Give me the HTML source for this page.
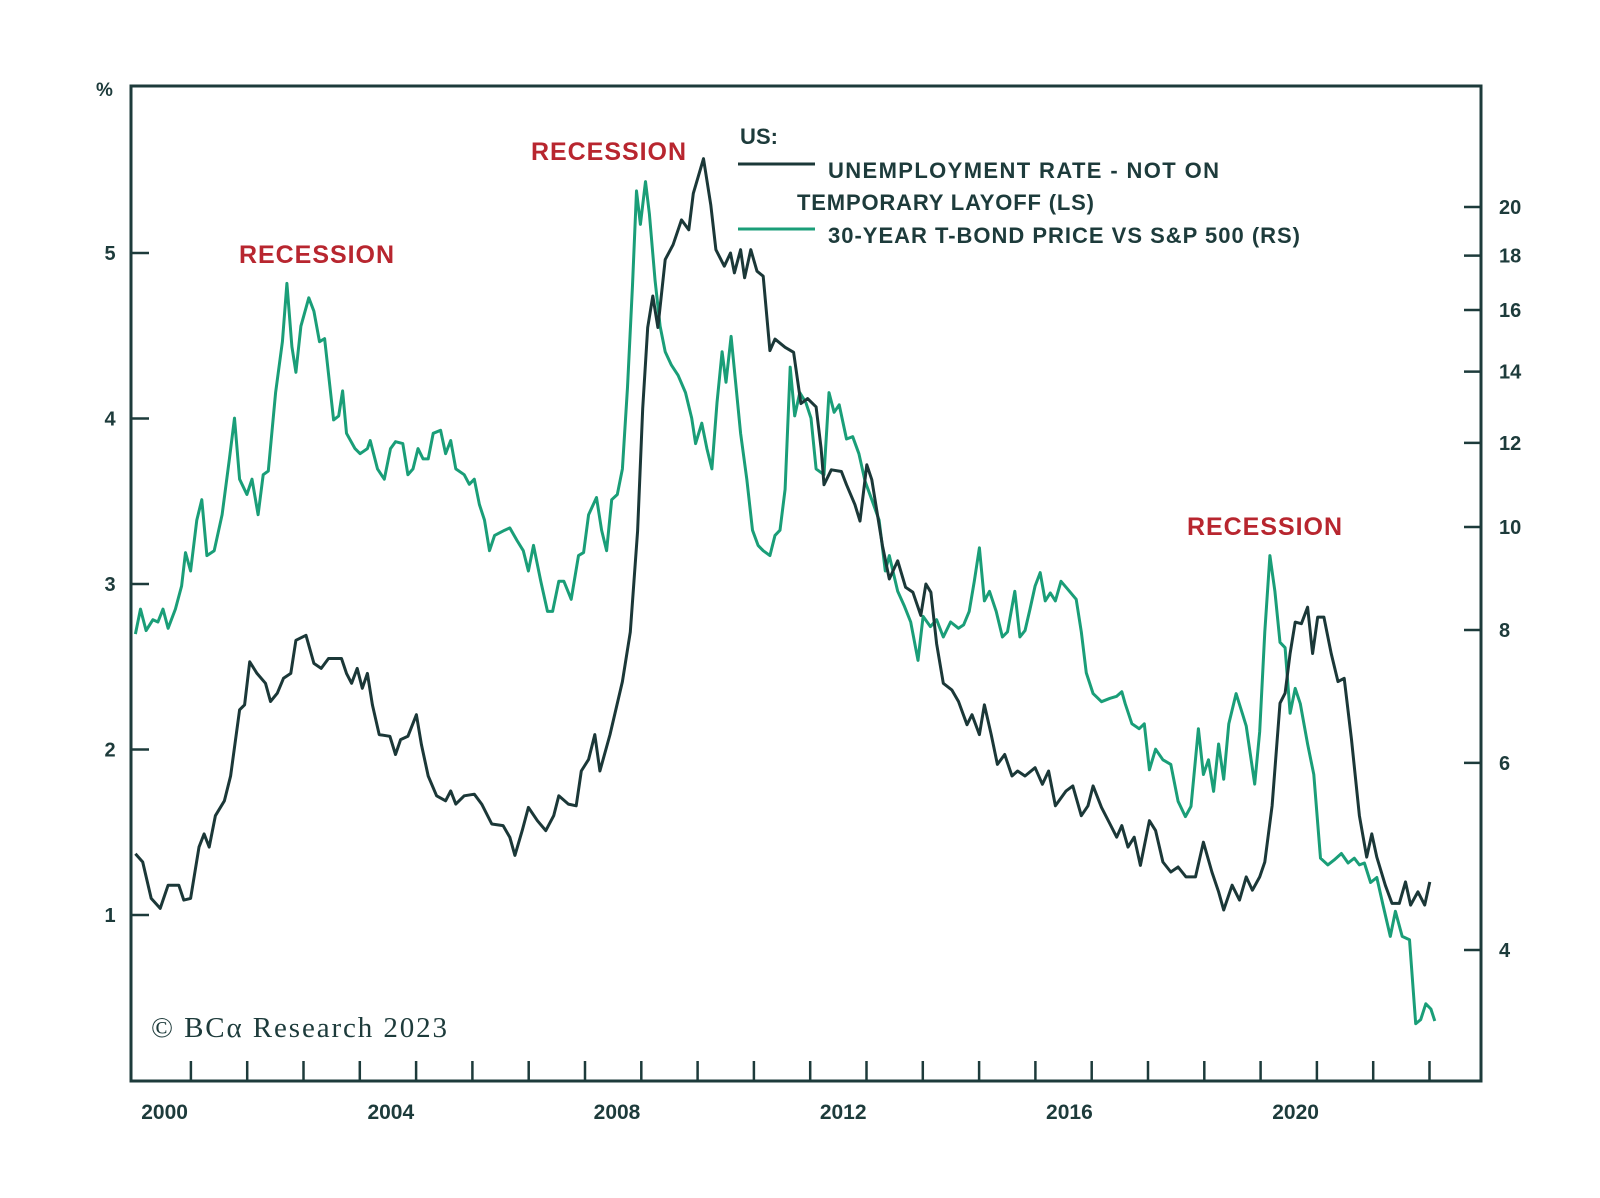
<!DOCTYPE html>
<html><head><meta charset="utf-8"><style>
html,body{margin:0;padding:0;background:#fff;}
svg{display:block;}
text{font-family:"Liberation Sans",sans-serif;}
</style></head><body>
<svg id="chart" width="1600" height="1198" viewBox="0 0 1600 1198" xmlns="http://www.w3.org/2000/svg">
<rect width="1600" height="1198" fill="#fff"/>
<g id="axes"></g>
<g id="series"></g>
<text x="239" y="263" font-size="25" fill="#b8262f" font-weight="bold" textLength="155">RECESSION</text>
<text x="531" y="160" font-size="25" fill="#b8262f" font-weight="bold" textLength="155">RECESSION</text>
<text x="1187" y="535" font-size="25" fill="#b8262f" font-weight="bold" textLength="155">RECESSION</text>
<g fill="#1d3b3b" font-size="22" font-weight="bold">
<text x="740" y="144" textLength="38">US:</text>
<line x1="738" y1="164" x2="815" y2="164" stroke="#1b3838" stroke-width="3"/>
<text x="828" y="178" textLength="391">UNEMPLOYMENT RATE - NOT ON</text>
<text x="797" y="210" textLength="297">TEMPORARY LAYOFF (LS)</text>
<line x1="738" y1="229" x2="815" y2="229" stroke="#1a9e78" stroke-width="3"/>
<text x="828" y="243" textLength="472">30-YEAR T-BOND PRICE VS S&amp;P 500 (RS)</text>
</g>
<text x="151" y="1037" style="font-family:'Liberation Serif',serif" font-size="29" fill="#1d3b3b" textLength="296">© BCα Research 2023</text>
</svg>
<script>
const unempDates=[0.05,0.18,0.33,0.49,0.63,0.82,0.91,1.03,1.18,1.27,1.36,1.47,1.63,1.74,1.90,1.99,2.08,2.21,2.36,2.45,2.57,2.68,2.81,2.90,3.08,3.22,3.35,3.48,3.71,3.80,3.89,3.99,4.08,4.17,4.26,4.38,4.57,4.67,4.76,4.89,5.04,5.13,5.25,5.40,5.56,5.65,5.74,5.89,6.07,6.20,6.38,6.58,6.70,6.79,6.92,7.03,7.19,7.34,7.48,7.57,7.74,7.88,7.97,8.10,8.21,8.30,8.48,8.70,8.84,8.97,9.06,9.15,9.24,9.33,9.46,9.60,9.75,9.88,9.96,10.14,10.27,10.36,10.51,10.62,10.69,10.80,10.87,10.98,11.09,11.20,11.32,11.41,11.59,11.74,11.87,11.99,12.14,12.23,12.28,12.41,12.59,12.68,12.83,12.92,13.04,13.13,13.32,13.44,13.59,13.73,13.86,14.00,14.09,14.18,14.28,14.40,14.55,14.67,14.82,14.91,15.04,15.13,15.25,15.36,15.49,15.62,15.72,15.85,16.03,16.16,16.27,16.39,16.58,16.70,16.85,16.97,17.06,17.21,17.36,17.48,17.57,17.68,17.79,17.90,18.06,18.17,18.30,18.44,18.57,18.71,18.88,19.02,19.17,19.29,19.38,19.53,19.66,19.78,19.89,20.02,20.11,20.24,20.38,20.47,20.56,20.65,20.76,20.87,20.96,21.05,21.16,21.29,21.41,21.52,21.65,21.79,21.92,22.01,22.10,22.25,22.37,22.50,22.61,22.70,22.83,22.95,23.04];
const unempValues=[1.37,1.32,1.10,1.04,1.18,1.18,1.09,1.10,1.41,1.49,1.41,1.60,1.69,1.84,2.24,2.27,2.53,2.46,2.40,2.29,2.34,2.43,2.46,2.66,2.69,2.52,2.49,2.55,2.55,2.46,2.40,2.49,2.37,2.46,2.27,2.09,2.08,1.97,2.06,2.08,2.21,2.03,1.84,1.72,1.69,1.75,1.67,1.72,1.73,1.67,1.55,1.54,1.47,1.36,1.51,1.65,1.57,1.51,1.60,1.72,1.67,1.66,1.87,1.94,2.09,1.87,2.09,2.41,2.71,3.32,4.06,4.55,4.74,4.55,4.96,5.05,5.20,5.14,5.36,5.57,5.29,5.02,4.92,5.00,4.88,5.02,4.85,5.02,4.89,4.86,4.41,4.48,4.43,4.40,4.09,4.12,4.07,3.82,3.60,3.69,3.68,3.60,3.48,3.38,3.72,3.63,3.23,3.03,3.14,2.98,2.95,2.81,3.00,2.95,2.64,2.40,2.36,2.29,2.15,2.21,2.09,2.27,2.09,1.91,1.97,1.84,1.87,1.84,1.89,1.79,1.87,1.66,1.75,1.78,1.60,1.66,1.78,1.65,1.55,1.47,1.54,1.41,1.47,1.30,1.57,1.51,1.32,1.26,1.29,1.23,1.23,1.44,1.26,1.14,1.03,1.18,1.09,1.23,1.15,1.23,1.32,1.66,2.28,2.34,2.58,2.77,2.76,2.86,2.58,2.80,2.80,2.58,2.41,2.43,2.06,1.60,1.35,1.49,1.35,1.18,1.07,1.07,1.20,1.06,1.14,1.06,1.20];
const bondDates=[0.05,0.14,0.24,0.36,0.45,0.54,0.63,0.76,0.87,0.94,1.03,1.14,1.23,1.32,1.45,1.59,1.72,1.81,1.90,2.03,2.12,2.23,2.32,2.41,2.54,2.66,2.74,2.83,2.90,2.99,3.13,3.22,3.32,3.41,3.57,3.66,3.73,3.80,3.95,4.04,4.17,4.22,4.35,4.47,4.58,4.67,4.80,4.89,4.98,5.07,5.16,5.25,5.34,5.47,5.56,5.65,5.74,5.89,5.98,6.07,6.16,6.25,6.34,6.43,6.61,6.70,6.83,6.94,7.03,7.12,7.25,7.37,7.46,7.57,7.66,7.79,7.92,8.01,8.10,8.24,8.33,8.42,8.51,8.61,8.70,8.79,8.88,8.95,9.02,9.11,9.18,9.28,9.37,9.46,9.57,9.69,9.82,9.93,10.00,10.11,10.20,10.29,10.38,10.47,10.54,10.63,10.72,10.80,10.91,11.01,11.11,11.20,11.32,11.41,11.50,11.59,11.68,11.76,11.85,11.96,12.05,12.14,12.28,12.37,12.46,12.55,12.68,12.79,12.90,13.01,13.13,13.26,13.37,13.44,13.59,13.71,13.82,13.95,14.04,14.17,14.28,14.40,14.53,14.67,14.76,14.86,14.95,15.04,15.13,15.22,15.34,15.45,15.54,15.67,15.76,15.85,15.94,16.03,16.12,16.21,16.30,16.39,16.49,16.61,16.76,16.85,16.94,17.06,17.21,17.36,17.48,17.57,17.63,17.75,17.88,17.97,18.06,18.17,18.30,18.44,18.57,18.70,18.80,18.93,19.02,19.11,19.20,19.29,19.38,19.47,19.60,19.71,19.78,19.93,20.02,20.11,20.20,20.29,20.38,20.47,20.56,20.65,20.74,20.87,20.98,21.10,21.23,21.34,21.47,21.59,21.70,21.79,21.88,21.99,22.10,22.21,22.34,22.43,22.55,22.68,22.79,22.88,22.97,23.06,23.13];
const bondValues=[7.93,8.37,7.99,8.18,8.14,8.37,8.03,8.37,8.80,9.46,9.09,10.15,10.61,9.40,9.50,10.27,11.59,12.66,11.09,10.73,11.09,10.27,11.2,11.29,13.38,14.94,16.95,14.78,13.98,15.45,16.43,15.96,14.94,15.04,12.61,12.72,13.43,12.25,11.85,11.72,11.85,12.06,11.34,11.09,11.85,12.03,11.98,11.2,11.34,11.85,11.59,11.59,12.25,12.33,11.72,12.06,11.34,11.2,10.97,11.09,10.5,10.15,9.5,9.82,9.93,9.98,9.71,9.5,9.09,9.61,8.89,8.33,8.33,8.89,8.89,8.55,9.4,9.46,10.27,10.66,9.93,9.5,10.61,10.73,11.34,13.53,16.88,20.71,19.26,21.13,19.7,17.05,15.45,14.62,14.2,13.89,13.38,12.66,11.98,12.52,11.85,11.34,13.09,14.62,13.68,15.11,13.53,12.25,11.09,9.93,9.61,9.5,9.4,9.82,9.93,10.85,14.14,12.72,13.38,13.09,12.66,11.34,11.2,13.38,12.82,13.03,12.1,12.16,11.72,11.04,10.61,10.15,9.09,9.4,8.7,8.42,8.14,7.49,8.24,8.06,8.18,7.88,8.14,8.03,8.09,8.33,8.89,9.56,8.52,8.7,8.33,7.88,7.97,8.7,7.88,7.99,8.37,8.8,9.06,8.52,8.67,8.52,8.89,8.74,8.55,7.97,7.29,6.97,6.85,6.9,6.93,7.0,6.82,6.53,6.46,6.53,5.91,6.18,6.04,5.98,5.52,5.34,5.46,6.46,5.85,6.04,5.64,6.25,5.79,6.53,6.97,6.68,6.5,5.73,6.42,7.97,9.4,8.7,7.79,7.7,6.68,7.05,6.82,6.25,5.85,4.88,4.81,4.86,4.93,4.83,4.88,4.81,4.83,4.63,4.68,4.41,4.12,4.35,4.12,4.09,3.41,3.44,3.56,3.52,3.43];
const leftTicks=[1,2,3,4,5];
const rightTicks=[4,6,8,10,12,14,16,18,20];
const yearLabels=[2000,2004,2008,2012,2016,2020];
const yearTicks=[2001,2002,2003,2004,2005,2006,2007,2008,2009,2010,2011,2012,2013,2014,2015,2016,2017,2018,2019,2020,2021,2022,2023];

const NS="http://www.w3.org/2000/svg";
const L=131,R=1481,T=86,B=1081;
function xScale(t){return 132.6+t*56.3;}
function xYear(y){return 132.6+(y-2000)*56.3;}
function yLeft(v){return 915-(v-1)*165.5;}
function yRight(r){return 527-320*Math.log2(r/10);}
function mk(tag,attrs,parent){const e=document.createElementNS(NS,tag);for(const k in attrs)e.setAttribute(k,attrs[k]);parent.appendChild(e);return e;}
const axes=document.getElementById('axes');
const series=document.getElementById('series');
const ink="#1d3b3b";
let frame=mk('rect',{x:L,y:T,width:R-L,height:B-T,fill:'none',stroke:ink,'stroke-width':3},axes);


let pct=mk('text',{x:96,y:96,'font-size':19,'font-weight':'bold',fill:ink},axes);pct.textContent='%';


leftTicks.forEach(v=>{
  const y=yLeft(v);
  const t=mk('line',{x1:L,x2:L+18,y1:y,y2:y,stroke:ink,'stroke-width':2.5},axes);
  
  
  const tx=mk('text',{x:110,y:y+7,'font-size':20,'font-weight':'bold',fill:ink,'text-anchor':'middle'},axes);tx.textContent=v;
  
  
});
rightTicks.forEach(v=>{
  const y=yRight(v);
  const t=mk('line',{x1:R-17,x2:R,y1:y,y2:y,stroke:ink,'stroke-width':2.5},axes);
  
  
  const tx=mk('text',{x:1499,y:y+7,'font-size':20,'font-weight':'bold',fill:ink},axes);tx.textContent=v;
  
  
});
yearTicks.forEach(yr=>{
  const x=xYear(yr)+2;
  const t=mk('line',{x1:x,x2:x,y1:B,y2:B-20,stroke:ink,'stroke-width':2.5},axes);
  
  
});
yearLabels.forEach(yr=>{
  const x=xYear(yr)+32+(yr-2000)*0.25;
  const tx=mk('text',{x:x,y:1119,'font-size':21,'font-weight':'bold',fill:ink,'text-anchor':'middle'},axes);tx.textContent=yr;
  
  
});
function line(dates,vals,yf,color,name){
  const d=dates.map((t,i)=>(i?'L':'M')+xScale(t).toFixed(1)+','+yf(vals[i]).toFixed(1)).join('');
  const p=mk('path',{d:d,fill:'none',stroke:color,'stroke-width':3,'stroke-linejoin':'round'},series);
  
  
}
line(bondDates,bondValues,yRight,'#1a9e78','bond-vs-spx-line');
line(unempDates,unempValues,yLeft,'#1b3838','unemployment-line');
</script>
</body></html>
